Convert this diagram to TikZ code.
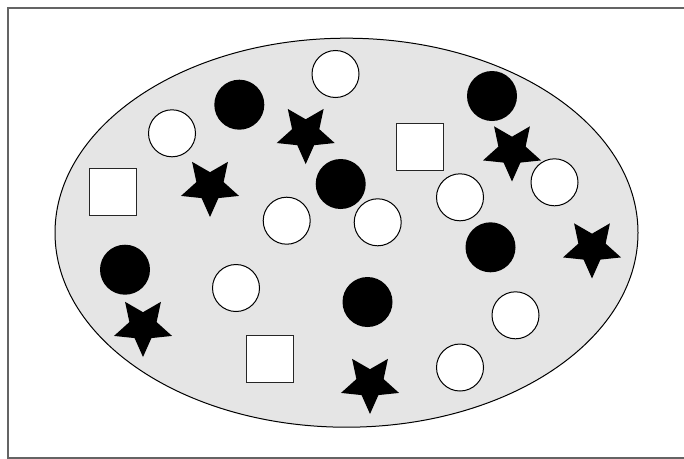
\documentclass[tikz,border=0pt]{standalone}
\usetikzlibrary{shapes.geometric}
\definecolor{framegray}{RGB}{100,100,100}
\definecolor{ovalgray}{RGB}{229,229,229}
\tikzset{
  framelinestyle/.style={draw=framegray, line width=2pt},
  ovalstyle/.style={ellipse, draw=black, line width=1pt, fill=ovalgray, inner sep=0pt, minimum width=583pt, minimum height=389pt},
  whitedot/.style={circle, draw=black, line width=1pt, fill=white, inner sep=0pt, minimum size=47pt},
  blackdot/.style={circle, fill=black, inner sep=0pt, minimum size=50pt},
  whitesq/.style={rectangle, draw=black!85, line width=1pt, fill=white, inner sep=0pt, minimum size=47pt},
  blackstar/.style={star, star points=5, star point ratio=2.13, shape border rotate=180, fill=black, inner sep=0pt, minimum size=61pt}
}
\begin{document}
\begin{tikzpicture}[x=1pt, y=-1pt]
\useasboundingbox (0,0) rectangle (684,458);
\clip (0,0) rectangle (684,458);
\coordinate (ftr) at (700,7.5);
\coordinate (ftl) at (7.5,7.5);
\coordinate (fbl) at (7.5,457.5);
\coordinate (fbr) at (700,457.5);
\draw[framelinestyle] (ftr) -- (ftl) -- (fbl) -- (fbr);
\node[ovalstyle] (oval) at (346.5,232.7) {};
% white circles
\node[whitedot] (w1) at (172,133.3) {};
\node[whitedot] (w2) at (335.5,74) {};
\node[whitedot] (w3) at (286.7,220.7) {};
\node[whitedot] (w4) at (377.7,222.3) {};
\node[whitedot] (w5) at (460,197.3) {};
\node[whitedot] (w6) at (554.5,182.3) {};
\node[whitedot] (w7) at (236,288) {};
\node[whitedot] (w8) at (515.5,315.3) {};
\node[whitedot] (w9) at (460,367.5) {};
% black circles
\node[blackdot] (b1) at (239.3,104.7) {};
\node[blackdot] (b2) at (492,96) {};
\node[blackdot] (b3) at (340.7,184) {};
\node[blackdot] (b4) at (490.5,247.3) {};
\node[blackdot] (b5) at (125,269.7) {};
\node[blackdot] (b6) at (367.5,302) {};
% squares
\node[whitesq] (q1) at (113,192) {};
\node[whitesq] (q2) at (419.5,147) {};
\node[whitesq] (q3) at (270,359) {};
% stars
\node[blackstar] (s1) at (305.7,133.6) {};
\node[blackstar] (s2) at (210,186.5) {};
\node[blackstar] (s3) at (512,151) {};
\node[blackstar] (s4) at (592,248) {};
\node[blackstar] (s5) at (143,326.5) {};
\node[blackstar] (s6) at (370,383.5) {};
\end{tikzpicture}
\end{document}
